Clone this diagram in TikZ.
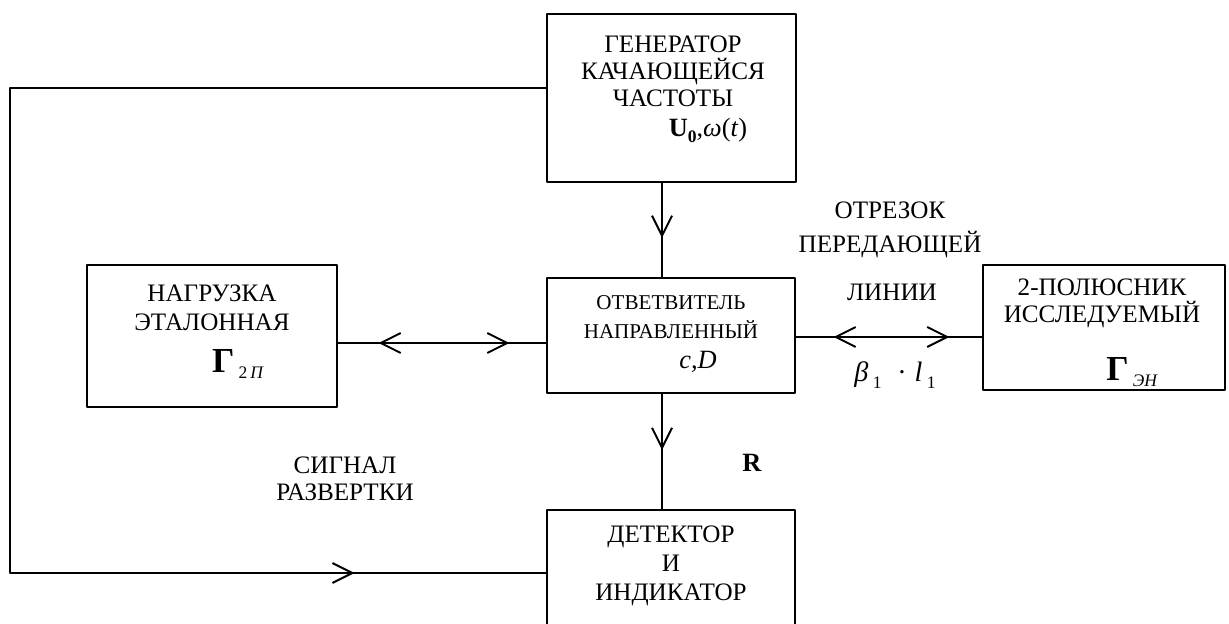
\documentclass[tikz,border=0pt]{standalone}
\usepackage{fontspec}
\setmainfont{Liberation Serif}
\usetikzlibrary{arrows.meta,decorations.markings}
\newcommand\lowsub[1]{\raisebox{-0.5ex}{\fontsize{10}{10}\selectfont #1}}
\begin{document}
\begin{tikzpicture}[x=0.02cm,y=-0.02cm,line width=1.1pt,line cap=round,line join=round,
	blok/.style={draw,inner sep=0pt},
	txt/.style={align=center,inner sep=0pt,font=\fontsize{14.3}{15.4}\selectfont},
	vpered/.style={postaction={decorate,decoration={markings,mark=at position #1 with {\arrow{Straight Barb[length=0.4cm,width=0.4cm]}}}}},
	nazad/.style={postaction={decorate,decoration={markings,mark=at position #1 with {\arrowreversed{Straight Barb[length=0.4cm,width=0.4cm]}}}}}]
					\useasboundingbox (0,0) rectangle (1229,624);
					\clip (0,0) rectangle (1229,624);
					% bloki
					\node[blok,minimum width=4.98cm,minimum height=3.36cm] (gen) at (671.5,98) {};
					\node[blok,minimum width=4.96cm,minimum height=2.3cm] (otv) at (671,335.5) {};
					\node[blok,minimum width=5cm,minimum height=2.84cm] (nagr) at (212,336) {};
					\node[blok,minimum width=4.84cm,minimum height=2.5cm] (dvuh) at (1104,327.5) {};
					\node[blok,minimum width=4.96cm,minimum height=3.4cm] (det) at (671,595) {};
					% nadpisi
					\node[txt] (genT) at (673,71) {ГЕНЕРАТОР\\КАЧАЮЩЕЙСЯ\\ЧАСТОТЫ};
					\node[txt,font=\fontsize{15}{15}\selectfont] (genU) at (708,130) {\textbf{U}\lowsub{\textbf{0}},\textit{ω}(\textit{t})};
					\node[txt,font=\fontsize{12}{16.4}\selectfont] (otvT) at (671,317.5) {ОТВЕТВИТЕЛЬ\\НАПРАВЛЕННЫЙ};
					\node[txt,font=\fontsize{15}{15}\selectfont] (otvC) at (698,362) {\textit{c,D}};
					\node[txt,font=\fontsize{14.3}{16.4}\selectfont] (nagrT) at (212,307.5) {НАГРУЗКА\\ЭТАЛОННАЯ};
					\node[txt] (nagrG) at (238,364) {{\fontsize{20}{20}\selectfont\bfseries Г}\,\lowsub{2\,\textit{П}}};
					\node[txt] (dvuhT) at (1102,303.5) {2-ПОЛЮСНИК\\ИССЛЕДУЕМЫЙ};
					\node[txt] (dvuhG) at (1132,372) {{\fontsize{20}{20}\selectfont\bfseries Г}\,\lowsub{\textit{ЭН}}};
					\node[txt,font=\fontsize{14.3}{16.4}\selectfont] (detT) at (671,566) {ДЕТЕКТОР\\И\\ИНДИКАТОР};
					\node[txt] (otrT) at (890,230) {ОТРЕЗОК\\[4pt]ПЕРЕДАЮЩЕЙ};
					\node[txt] (linT) at (892,292) {ЛИНИИ};
					\node[txt,font=\fontsize{16}{16}\selectfont] (bl) at (895,375) {\textit{β}\,\lowsub{1}\;\;·\;\textit{l}\,\lowsub{1}};
					\node[txt,font=\fontsize{15}{15}\selectfont] (R) at (752,463) {\textbf{R}};
					\node[txt] (sigT) at (345,479) {СИГНАЛ\\РАЗВЕРТКИ};
					% svyazi
					\coordinate (vx) at (662,0);
					\coordinate (hy1) at (0,343);
					\coordinate (hy2) at (0,337);
					\coordinate (ft) at (10,88);
					\coordinate (fb) at (10,573);
					\draw[vpered=0.583] (gen.south -| vx) -- (otv.north -| vx);
					\draw[vpered=0.487] (otv.south -| vx) -- (det.north -| vx);
					\draw[nazad=0.195,vpered=0.824] (nagr.east |- hy1) -- (otv.west |- hy1);
					\draw[nazad=0.202,vpered=0.824] (otv.east |- hy2) -- (dvuh.west |- hy2);
					\draw[vpered=0.877] (gen.west |- ft) -- (ft) -- (fb) -- (det.west |- fb);
				\end{tikzpicture}
\end{document}
